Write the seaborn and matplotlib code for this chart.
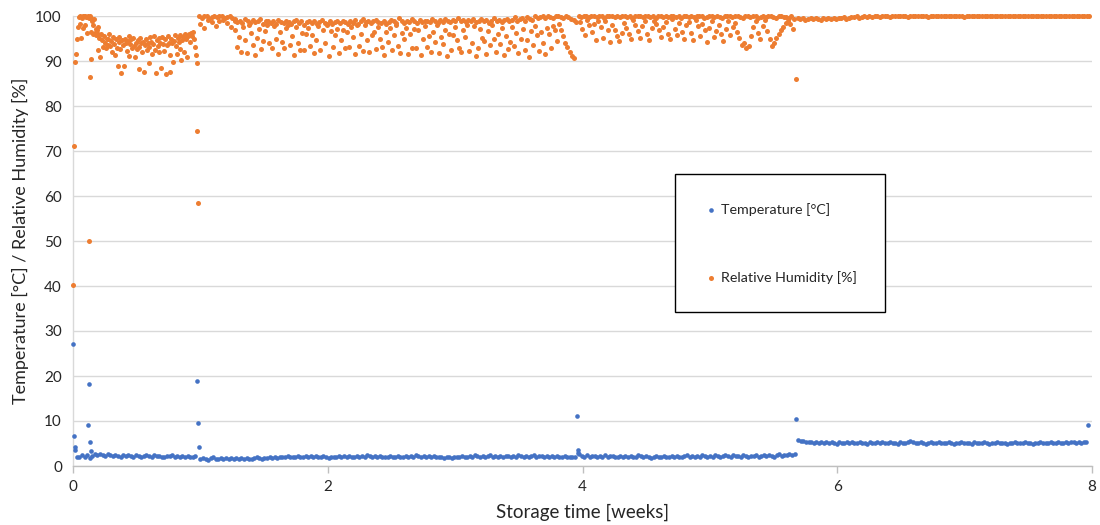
import numpy as np
import pandas as pd
import matplotlib
matplotlib.use("Agg")
import matplotlib.pyplot as plt
import seaborn as sns

# ---------------- data ----------------
# Regular logger readings: each list is spread evenly over its time span [weeks]
temp_span_1 = (0.03, 0.96)
temp_1 = [2.1, 1.9, 2.4, 2.0, 2.5, 1.8, 2.3, 2.6, 2.4, 2.7, 2.5, 2.3, 2.6, 2.4, 2.2, 2.5,
          2.3, 2.1, 2.4, 2.2, 2.5, 2.3, 2.1, 2.4, 2.2, 2.0, 2.3, 2.5, 2.2, 2.1, 2.4, 2.2,
          2.3, 2.1, 2.0, 2.3, 2.2, 2.4, 2.1, 2.2, 2.0, 2.3, 2.1, 2.2, 1.9, 2.1, 2.2]

temp_span_2 = (1.0, 3.94)
temp_2 = [1.5, 1.8, 1.6, 1.4, 1.7, 1.9, 1.6, 1.5, 1.8, 1.6, 1.7, 1.5, 1.8, 1.6, 1.7,
          1.5, 1.7, 1.6, 1.8, 1.6, 1.5, 1.7, 1.9, 1.7, 1.6, 1.8, 1.7, 1.9, 1.8, 2.0,
          1.8, 2.1, 1.9, 2.0, 2.2, 1.9, 2.1, 2.0, 2.3, 2.1, 1.9, 2.2, 2.0, 2.3, 2.1,
          2.3, 2.1, 1.9, 2.2, 2.0, 1.8, 2.1, 1.9, 2.0, 2.2, 2.1, 2.3, 2.0, 2.2, 2.1,
          1.9, 2.2, 2.0, 2.3, 2.1, 2.4, 2.2, 2.0, 2.3, 2.1, 2.2, 2.0, 1.9, 2.1, 2.3,
          2.1, 2.0, 2.2, 1.9, 2.1, 2.3, 2.1, 2.2, 2.0, 2.4, 2.2, 2.1, 2.3, 2.0, 2.2,
          2.1, 2.3, 2.0, 1.9, 2.1, 1.8, 2.0, 1.9, 1.8, 2.0, 2.1, 1.9, 2.2, 2.0, 2.1,
          2.3, 2.1, 2.4, 2.2, 2.0, 2.3, 2.1, 2.2, 2.4, 2.1, 2.3, 2.0, 2.2, 2.1, 2.3,
          2.2, 2.0, 2.3, 2.1, 2.4, 2.2, 2.1, 2.3, 2.0, 2.2, 2.4, 2.1, 2.3, 2.2, 2.0,
          2.2, 2.1, 2.3, 2.0, 2.2, 2.1, 1.9, 2.2, 2.0, 2.1, 1.9, 2.0]

temp_span_3 = (3.975, 5.665)
temp_3 = [2.6, 2.3, 2.1, 2.4, 2.0, 2.2, 2.3, 1.9, 2.2, 2.1, 2.4, 2.0, 2.2, 2.3, 2.1, 1.9, 2.2,
          2.0, 2.3, 2.1, 2.2, 1.9, 2.1, 2.4, 2.2, 2.0, 2.3, 2.1, 1.8, 2.1, 2.2, 1.9, 2.0, 2.2,
          2.1, 1.9, 2.2, 2.0, 2.3, 2.1, 1.9, 2.2, 2.4, 2.1, 2.3, 2.0, 2.2, 2.1, 2.4, 2.2, 2.0,
          2.3, 2.1, 2.4, 2.2, 2.0, 2.3, 2.5, 2.2, 2.1, 2.4, 2.2, 2.3, 2.1, 2.4, 2.2, 2.0, 2.3,
          2.2, 2.4, 2.1, 2.3, 2.5, 2.2, 2.4, 2.3, 2.1, 2.4, 2.6, 2.3, 2.5, 2.4, 2.6, 2.5, 2.7]

temp_span_4 = (5.695, 7.955)
temp_4 = [5.8, 5.6, 5.5, 5.4, 5.3, 5.4, 5.2, 5.3, 5.1, 5.3, 5.2, 5.4, 5.1, 5.3, 5.2, 5.0, 5.3, 5.2, 5.1,
          5.3, 5.2, 5.4, 5.1, 5.2, 5.3, 5.1, 5.2, 5.0, 5.3, 5.2, 5.1, 5.3, 5.2, 5.4, 5.1, 5.2, 5.3, 5.1,
          5.2, 5.0, 5.3, 5.2, 5.1, 5.4, 5.5, 5.3, 5.2, 5.1, 5.3, 5.2, 5.0, 5.2, 5.3, 5.1, 5.2, 5.3, 5.1,
          5.2, 5.1, 5.3, 5.2, 5.0, 5.2, 5.1, 5.3, 5.2, 5.1, 5.2, 5.0, 5.3, 5.1, 5.2, 5.1, 5.3, 5.2, 5.0,
          5.2, 5.1, 5.3, 5.2, 5.1, 5.2, 5.0, 5.2, 5.1, 5.3, 5.2, 5.1, 5.2, 5.3, 5.1, 5.2, 5.0, 5.2, 5.1,
          5.3, 5.2, 5.1, 5.2, 5.3, 5.1, 5.2, 5.3, 5.2, 5.1, 5.3, 5.2, 5.4, 5.3, 5.2, 5.3, 5.2, 5.4, 5.3]

# Isolated temperature readings (door openings etc.)
temp_event_week = [0.0, 0.006, 0.012, 0.018, 0.12, 0.125, 0.133, 0.139, 0.975, 0.979, 0.99,
                   3.955, 3.962, 3.968, 5.68, 7.97]
temp_event_value = [27.1, 6.6, 4.2, 3.6, 9.1, 18.2, 5.3, 3.4, 18.9, 9.6, 4.3,
                    11.1, 3.6, 2.9, 10.4, 9.1]

# Relative humidity [%]
rh_span_1 = (0.035, 0.2)
rh_1 = [95.0, 97.6, 99.8, 98.2, 100, 95.1, 99.6, 97.3, 100, 99.9, 98.0, 100, 99.7, 96.2, 100,
        99.8, 99.5, 100, 96.4, 99.6, 98.8, 96.0, 97.9, 99.4, 96.3, 97.2, 95.8, 96.9, 97.6, 96.1]

rh_span_2 = (0.2, 0.965)
rh_2 = [92.4, 95.2, 91.0, 96.0, 94.6, 93.1, 95.5, 94.0, 92.8, 95.0, 93.6, 94.8, 96.1, 93.3,
        94.5, 92.1, 95.3, 93.8, 91.4, 94.9, 93.0, 88.9, 95.4, 94.2, 92.6, 87.3, 94.7, 93.5,
        89.0, 95.0, 93.9, 92.3, 94.4, 95.6, 91.2, 93.7, 94.9, 92.9, 95.2, 93.4, 90.8, 94.1,
        92.7, 94.6, 93.2, 88.2, 95.1, 93.9, 92.0, 94.3, 87.6, 93.6, 95.0, 92.5, 94.0, 89.6,
        93.1, 95.3, 94.2, 91.6, 93.8, 95.5, 92.4, 87.4, 94.6, 93.3, 95.2, 91.9, 94.0, 88.4,
        95.4, 93.7, 92.2, 94.8, 87.2, 93.5, 95.6, 94.1, 91.3, 87.5, 95.0, 93.9, 89.8, 94.5,
        95.7, 93.4, 91.5, 95.2, 94.3, 92.6, 95.8, 90.3, 94.7, 95.4, 92.1, 96.0, 94.9, 91.0,
        95.6, 96.1, 94.2, 95.8, 96.3, 95.5, 96.5, 94.8, 93.2, 91.4]

rh_band_span_2 = (0.99, 1.27)
rh_band_2 = [100, 99.6, 99.9, 100, 99.4, 99.8, 100, 99.7, 99.9, 100, 99.5, 99.8, 100, 99.6, 99.3]
rh_scatter_span_2 = (1.0, 1.27)
rh_scatter_2 = [98.2, 97.4, 99.1, 98.6, 97.8, 98.9, 99.2, 98.4, 97.5, 98.8]

rh_band_span_3 = (1.27, 3.95)
rh_band_3 = [99.2, 98.7, 99.0, 98.5, 99.3, 98.8, 98.4, 99.1, 98.6, 98.9, 99.4, 98.3, 98.8, 99.0, 98.5,
             98.9, 98.2, 99.1, 98.6, 98.4, 99.0, 98.7, 98.3, 98.9, 99.2, 98.5, 98.8, 98.1, 98.7, 99.0,
             98.4, 98.9, 98.2, 98.6, 99.1, 98.5, 98.0, 98.8, 98.3, 98.7, 99.0, 98.4, 98.9, 98.6, 98.2,
             98.8, 98.5, 99.1, 98.3, 98.9, 99.4, 98.6, 99.0, 98.4, 98.8, 99.2, 98.7, 98.5, 99.0, 98.3,
             98.7, 99.2, 98.9, 98.4, 99.6, 98.8, 98.5, 99.0, 98.6, 99.3, 98.9, 98.4, 99.1, 98.7, 98.9,
             99.0, 98.6, 99.3, 98.8, 98.5, 99.1, 98.7, 99.4, 98.9, 98.6, 99.2, 98.8, 99.5, 98.9, 99.1,
             98.7, 99.2, 98.9, 99.4, 98.6, 99.0, 99.3, 98.8, 99.1, 98.5, 99.0, 99.6, 98.9, 99.2, 98.7,
             99.1, 99.4, 98.8, 99.2, 99.7, 99.0, 99.3, 99.6, 98.9, 99.8, 99.4, 99.1, 99.9, 99.5, 99.7,
             99.9, 99.6, 100, 99.8, 99.5, 99.9, 100, 99.7, 99.6, 100, 99.8, 99.4, 99.2, 98.6]
rh_scatter_span_3 = (1.27, 3.93)
rh_scatter_3 = [96.8, 93.1, 95.4, 92.1, 97.5, 94.6, 91.8, 97.9, 96.2, 93.5, 91.4, 95.2, 97.1, 92.7, 94.5, 96.6, 98.0,
                93.9, 92.8, 97.7, 95.0, 91.6, 96.4, 94.2, 92.9, 97.3, 98.1, 93.5, 95.6, 91.3, 97.6, 94.0, 92.4, 96.3,
                92.4, 96.1, 97.4, 93.3, 95.7, 91.8, 94.6, 97.8, 92.5, 96.9, 94.0, 98.2, 91.2, 96.7, 93.2, 95.8, 97.2,
                91.7, 94.7, 97.0, 92.9, 96.4, 93.2, 97.5, 95.3, 91.5, 98.0, 93.4, 96.1, 92.2, 97.9, 94.6, 91.9, 95.8,
                96.4, 92.6, 97.6, 95.0, 93.1, 91.3, 96.5, 94.2, 97.3, 92.4, 95.7, 98.1, 93.4, 91.7, 96.2, 94.8, 97.4,
                91.6, 95.9, 93.0, 97.1, 92.9, 96.8, 91.4, 94.8, 97.7, 93.2, 95.5, 92.0, 96.5, 94.2, 98.0, 91.8, 95.3,
                93.7, 97.0, 91.2, 96.1, 92.5, 95.8, 97.5, 94.6, 93.0, 91.9, 96.9, 95.4, 98.1, 92.3, 94.0, 97.8, 91.1,
                92.8, 97.2, 95.2, 94.4, 91.6, 96.7, 93.5, 97.9, 94.9, 92.1, 96.0, 93.8, 97.4, 91.3, 95.5, 92.7, 94.3,
                97.6, 93.3, 96.2, 91.8, 95.0, 97.1, 92.4, 94.7, 91.0, 96.6, 93.6, 97.7, 95.7, 92.2, 96.4, 94.1, 91.5,
                97.3, 95.9, 92.9, 97.8, 96.8, 94.5, 98.2, 97.0, 95.6, 94.0, 93.1, 92.0, 91.2, 90.6]

rh_band_span_4 = (3.97, 5.66)
rh_band_4 = [100, 99.8, 100, 99.9, 99.7, 100, 100, 99.8, 99.9, 100, 99.6, 100, 99.9, 100, 99.8, 100, 99.7,
             99.9, 100, 99.8, 100, 99.6, 99.9, 100, 100, 99.7, 99.9, 100, 99.8, 100, 99.5, 99.9, 100, 99.8,
             100, 99.7, 99.9, 100, 99.8, 100, 99.6, 100, 99.9, 99.8, 100, 99.7, 100, 99.9, 100, 99.6, 99.8,
             100, 99.9, 99.7, 100, 99.8, 99.5, 100, 99.9, 100, 99.7, 99.9, 100, 99.8, 99.6, 100, 99.9, 99.7,
             99.9, 100, 99.6, 99.8, 100, 99.7, 99.9, 100, 99.8, 99.5, 99.9, 100, 99.7, 99.8, 99.6, 99.9, 99.4]
rh_scatter_span_4 = (3.98, 5.65)
rh_scatter_4 = [98.6, 97.2, 95.8, 99.1, 97.9, 96.4, 98.3, 94.6, 99.0, 97.5, 95.2, 98.8, 96.9, 94.3, 98.1,
                97.0, 95.5, 94.5, 96.2, 98.5, 97.4, 95.9, 94.9, 99.2, 98.0, 96.6, 95.1, 97.8, 98.9, 96.0,
                94.7, 97.3, 99.0, 98.2, 96.8, 95.4, 97.6, 98.7, 96.1, 94.8, 99.3, 97.1, 95.7, 98.4, 96.5,
                95.0, 97.9, 98.6, 96.3, 94.6, 99.1, 97.7, 95.6, 98.3, 96.9, 94.2, 97.4, 98.8, 95.3, 96.7,
                98.1, 96.0, 94.4, 97.2, 99.0, 95.8, 97.5, 98.5, 96.4, 95.1, 93.6, 94.0, 92.8, 93.3, 95.5,
                97.6, 98.9, 96.2, 95.0, 97.8, 99.2, 96.6, 94.9, 93.4, 94.1, 95.2, 96.1, 96.8, 97.6, 98.4,
                99.0, 98.2, 97.1]

rh_band_span_5 = (5.69, 7.98)
rh_band_5 = [99.6, 99.3, 99.5, 99.2, 99.4, 99.6, 99.3, 99.5, 99.4, 99.2, 99.5, 99.3, 99.6, 99.4, 99.5, 99.3, 99.6, 99.5, 99.7, 99.4,
             99.6, 99.8, 99.7, 99.9, 99.6, 99.8, 99.9, 99.7, 100, 99.8, 99.9, 100, 99.8, 99.9, 100, 99.9, 99.8, 100, 99.9, 100,
             100, 99.9, 100, 99.8, 100, 100, 99.9, 100, 99.9, 100, 100, 99.8, 100, 99.9, 100, 100, 99.9, 100, 100, 99.9,
             100, 100, 99.9, 100, 100, 99.8, 100, 100, 99.9, 100, 100, 100, 99.9, 100, 100, 99.9, 100, 100, 100, 99.9,
             100, 100, 100, 99.9, 100, 100, 99.9, 100, 100, 100, 100, 99.9, 100, 100, 100, 99.9, 100, 100, 100, 100,
             100, 99.9, 100, 100, 100, 100, 99.9, 100, 100, 100, 100, 100, 99.9, 100, 100]

# Isolated humidity readings
rh_event_week = [0.0, 0.008, 0.016, 0.024, 0.125, 0.135, 0.139, 0.97, 0.975, 0.978, 5.68]
rh_event_value = [40.2, 71.2, 89.8, 91.6, 50.0, 86.5, 90.4, 89.5, 74.5, 58.5, 86.1]

SERIES_T = "Temperature [°C]"
SERIES_RH = "Relative Humidity [%]"

# ---------------- build table ----------------
def spread(span, values, series):
    weeks = np.linspace(span[0], span[1], len(values))
    return pd.DataFrame({"week": weeks, "value": values, "series": series})

parts = [
    spread(temp_span_1, temp_1, SERIES_T),
    spread(temp_span_2, temp_2, SERIES_T),
    spread(temp_span_3, temp_3, SERIES_T),
    spread(temp_span_4, temp_4, SERIES_T),
    pd.DataFrame({"week": temp_event_week, "value": temp_event_value, "series": SERIES_T}),
    spread(rh_span_1, rh_1, SERIES_RH),
    spread(rh_span_2, rh_2, SERIES_RH),
    spread(rh_band_span_2, rh_band_2, SERIES_RH),
    spread(rh_scatter_span_2, rh_scatter_2, SERIES_RH),
    spread(rh_band_span_3, rh_band_3, SERIES_RH),
    spread(rh_scatter_span_3, rh_scatter_3, SERIES_RH),
    spread(rh_band_span_4, rh_band_4, SERIES_RH),
    spread(rh_scatter_span_4, rh_scatter_4, SERIES_RH),
    spread(rh_band_span_5, rh_band_5, SERIES_RH),
    pd.DataFrame({"week": rh_event_week, "value": rh_event_value, "series": SERIES_RH}),
]
df = pd.concat(parts, ignore_index=True)

# ---------------- plot ----------------
sns.set_theme(style="white")
plt.rcParams["font.family"] = ["Lato", "DejaVu Sans"]

fig = plt.figure(figsize=(11, 5.25), dpi=100)
ax = fig.add_axes([73 / 1100, 59 / 525, 1019 / 1100, 450 / 525])

BLUE = "#4472C4"
ORANGE = "#ED7D31"

sns.scatterplot(data=df[df.series == SERIES_T], x="week", y="value", color=BLUE,
                s=11, linewidth=0, ax=ax, label=SERIES_T, clip_on=False, zorder=3)
sns.scatterplot(data=df[df.series == SERIES_RH], x="week", y="value", color=ORANGE,
                s=13, linewidth=0, ax=ax, label=SERIES_RH, clip_on=False, zorder=3)

ax.set_xlim(0, 8)
ax.set_ylim(0, 100)
ax.set_xticks([0, 2, 4, 6, 8])
ax.set_yticks(range(0, 101, 10))
ax.yaxis.grid(True, color="#D9D9D9", linewidth=1)
ax.xaxis.grid(False)
for side in ("top", "right"):
    ax.spines[side].set_visible(False)
ax.spines["left"].set_color("#D9D9D9")
ax.spines["bottom"].set_color("#BFBFBF")
ax.spines["left"].set_linewidth(1)
ax.spines["bottom"].set_linewidth(1)
ax.tick_params(axis="x", length=5, width=1, color="#BFBFBF", pad=5,
               labelsize=11, labelcolor="#262626", direction="out", bottom=True)
ax.tick_params(axis="y", length=0, pad=8, labelsize=11, labelcolor="#262626", left=False)

ax.set_xlabel("Storage time [weeks]", fontsize=13.5, color="#262626", va="center")
ax.xaxis.set_label_coords(0.5, -46 / 450)
ax.set_ylabel("Temperature [°C] / Relative Humidity [%]", fontsize=13, color="#262626", va="center")
ax.yaxis.set_label_coords(-53 / 1019, 0.5)

leg = ax.legend(loc="upper left", bbox_to_anchor=(675 / 1100, 212 / 525, 210 / 1100, 139 / 525),
                bbox_transform=fig.transFigure, mode="expand", frameon=True, fancybox=False,
                fontsize=10.3, borderpad=2.0, labelspacing=3.85, handlelength=1.0,
                handletextpad=0.2, markerscale=1.0, borderaxespad=0)
leg.get_frame().set_edgecolor("#000000")
leg.get_frame().set_linewidth(1)
leg.get_frame().set_alpha(1)
for t in leg.get_texts():
    t.set_color("#262626")

fig.savefig("out.png", dpi=100)
